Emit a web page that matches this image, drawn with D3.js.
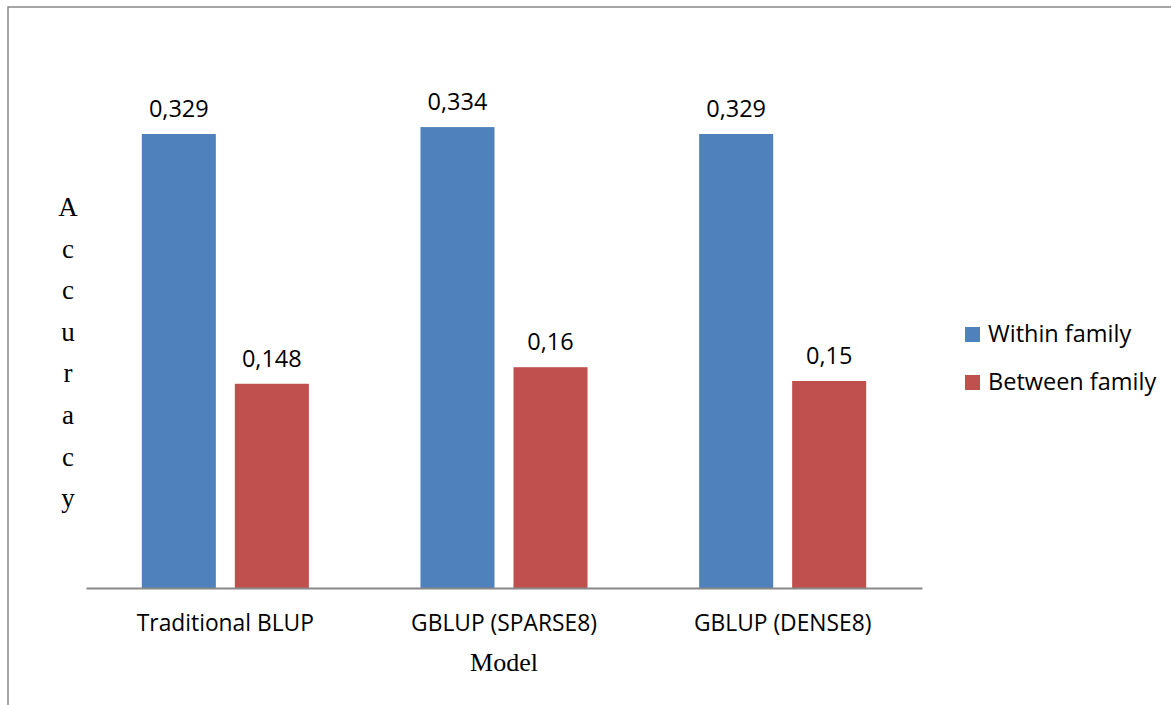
<!DOCTYPE html>
<html>
<head>
<meta charset="utf-8">
<script src="https://cdn.jsdelivr.net/npm/d3@7"></script>
<style>
  body { margin: 0; background: #fff; }
</style>
</head>
<body>
<div id="chart"></div>
<script>
// data
var categories = ["Traditional BLUP", "GBLUP (SPARSE8)", "GBLUP (DENSE8)"];
var seriesNames = ["Within family", "Between family"];
var withinFamily = [0.329, 0.334, 0.329];
var betweenFamily = [0.148, 0.16, 0.15];
var valueLabels = [["0,329", "0,148"], ["0,334", "0,16"], ["0,329", "0,15"]];
var yAxisTitle = "Accuracy";
var xAxisTitle = "Model";

var colors = ["#4F81BD", "#C0504D"];

var W = 1171, H = 705;
var svg = d3.select("#chart").append("svg")
    .attr("width", W)
    .attr("height", H);

// outer chart frame
svg.append("rect")
    .attr("x", 8).attr("y", 7)
    .attr("width", W + 20).attr("height", H + 20)
    .attr("fill", "none")
    .attr("stroke", "#888")
    .attr("stroke-width", 1.5);

var plot = { left: 86, right: 922, bottom: 588 };

var x0 = d3.scaleBand()
    .domain(categories)
    .range([plot.left, plot.right]);

var x1 = d3.scaleBand()
    .domain(seriesNames)
    .range([0, x0.bandwidth()])
    .paddingInner(0.204)
    .paddingOuter(0.6);

var y = d3.scaleLinear()
    .domain([0, 0.35])
    .range([plot.bottom, plot.bottom - 0.35 * 1380]);

var rows = categories.map(function(c, i) {
    return { cat: c, values: [withinFamily[i], betweenFamily[i]], labels: valueLabels[i] };
});

var groups = svg.selectAll("g.cat")
    .data(rows)
    .enter()
    .append("g")
    .attr("class", "cat")
    .attr("transform", function(d) { return "translate(" + x0(d.cat) + ",0)"; });

groups.selectAll("rect")
    .data(function(d) { return d.values.map(function(v, j) { return { s: seriesNames[j], v: v, j: j }; }); })
    .enter()
    .append("rect")
    .attr("x", function(d) { return x1(d.s); })
    .attr("y", function(d) { return y(d.v); })
    .attr("width", x1.bandwidth())
    .attr("height", function(d) { return y(0) - y(d.v); })
    .attr("fill", function(d) { return colors[d.j]; });

groups.selectAll("text.val")
    .data(function(d) { return d.values.map(function(v, j) { return { s: seriesNames[j], v: v, t: d.labels[j] }; }); })
    .enter()
    .append("text")
    .attr("class", "val")
    .attr("x", function(d) { return x1(d.s) + x1.bandwidth() / 2; })
    .attr("y", function(d) { return y(d.v) - 17; })
    .attr("text-anchor", "middle")
    .style("font-family", "'Open Sans', sans-serif")
    .style("font-size", "23.5px")
    .attr("fill", "#000")
    .text(function(d) { return d.t; });

// category axis
var xAxis = svg.append("g")
    .attr("transform", "translate(0," + plot.bottom + ")")
    .call(d3.axisBottom(x0).tickSize(0).tickPadding(0));
xAxis.select(".domain")
    .attr("stroke", "#888")
    .attr("stroke-width", 2);
xAxis.selectAll("text")
    .attr("dy", 0)
    .attr("y", 43)
    .attr("fill", "#000")
    .style("font-family", "'Open Sans', sans-serif")
    .style("font-size", "22.8px");

// axis titles
svg.append("text")
    .attr("x", (plot.left + plot.right) / 2)
    .attr("y", 671)
    .attr("text-anchor", "middle")
    .style("font-family", "'Liberation Serif', serif")
    .style("font-size", "26px")
    .text(xAxisTitle);

svg.append("g")
    .selectAll("text")
    .data(yAxisTitle.split(""))
    .enter()
    .append("text")
    .attr("x", 68)
    .attr("y", function(d, i) { return 216 + i * 41.6; })
    .attr("text-anchor", "middle")
    .style("font-family", "'Liberation Serif', serif")
    .style("font-size", "27px")
    .text(function(d) { return d; });

// legend
var legend = svg.append("g")
    .selectAll("g")
    .data(seriesNames)
    .enter()
    .append("g")
    .attr("transform", function(d, i) { return "translate(965," + (327 + i * 48) + ")"; });

legend.append("rect")
    .attr("width", 15)
    .attr("height", 15)
    .attr("fill", function(d, i) { return colors[i]; });

legend.append("text")
    .attr("x", 23)
    .attr("y", 15)
    .style("font-family", "'Open Sans', sans-serif")
    .style("font-size", "23.5px")
    .text(function(d) { return d; });
</script>
</body>
</html>
